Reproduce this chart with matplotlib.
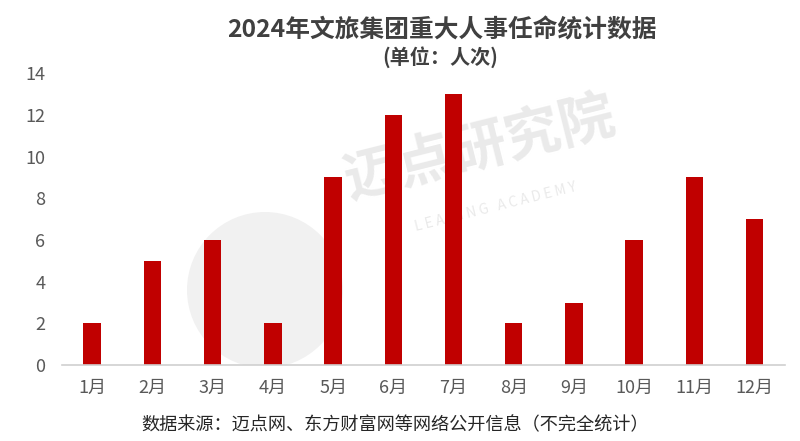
import matplotlib.pyplot as plt
from matplotlib.patches import Circle

plt.rcParams['font.family'] = ['Noto Sans CJK SC', 'DejaVu Sans']

# 数据
meses = ["1月", "2月", "3月", "4月", "5月", "6月", "7月", "8月", "9月", "10月", "11月", "12月"]
valores = [2, 5, 6, 2, 9, 12, 13, 2, 3, 6, 9, 7]
yticks = [0, 2, 4, 6, 8, 10, 12, 14]

titulo = "2024年文旅集团重大人事任命统计数据"
subtitulo = "(单位：人次)"
fonte = "数据来源：迈点网、东方财富网等网络公开信息（不完全统计）"

fig = plt.figure(figsize=(8, 4.41), dpi=100)
ax = fig.add_axes([0.0775, 0.172, 0.9035, 0.662])

x = range(len(meses))
ax.bar(x, valores, width=0.29, color="#C00000", zorder=2)

ax.set_xlim(-0.5, len(meses) - 0.5)
ax.set_ylim(0, 14)
ax.set_yticks(yticks)
ax.set_xticks(list(x))
ax.set_xticklabels(meses)

for lado in ["top", "right", "left"]:
    ax.spines[lado].set_visible(False)
ax.spines["bottom"].set_color("#D0D0D0")
ax.spines["bottom"].set_linewidth(1.2)
ax.tick_params(axis="both", length=0, colors="#595959", labelsize=13)
ax.tick_params(axis="x", pad=10)
ax.tick_params(axis="y", pad=12)

# marca d'água (atrás das barras)
circulo = Circle((265, 441 - 290), 78, transform=None, facecolor="#F1F1F1",
                 edgecolor="none", zorder=0)
ax.add_artist(circulo)
ax.text(0.60, 0.66, "迈点研究院", fontsize=40, color="#EAEAEA", rotation=14,
        ha="center", va="center", fontweight="bold", zorder=0,
        transform=fig.transFigure)
ax.text(0.62, 0.53, "L E A D I N G   A C A D E M Y", fontsize=10, color="#EAEAEA",
        rotation=14, ha="center", va="center", zorder=0, transform=fig.transFigure)

fig.text(0.553, 0.932, titulo, ha="center", va="center", fontsize=17.8,
         fontweight="bold", color="#404040")
fig.text(0.55, 0.870, subtitulo, ha="center", va="center", fontsize=14.5,
         fontweight="bold", color="#404040")
fig.text(0.494, 0.036, fonte, ha="center", va="center", fontsize=13.1, color="#262626")

fig.savefig("out.png", dpi=100)
